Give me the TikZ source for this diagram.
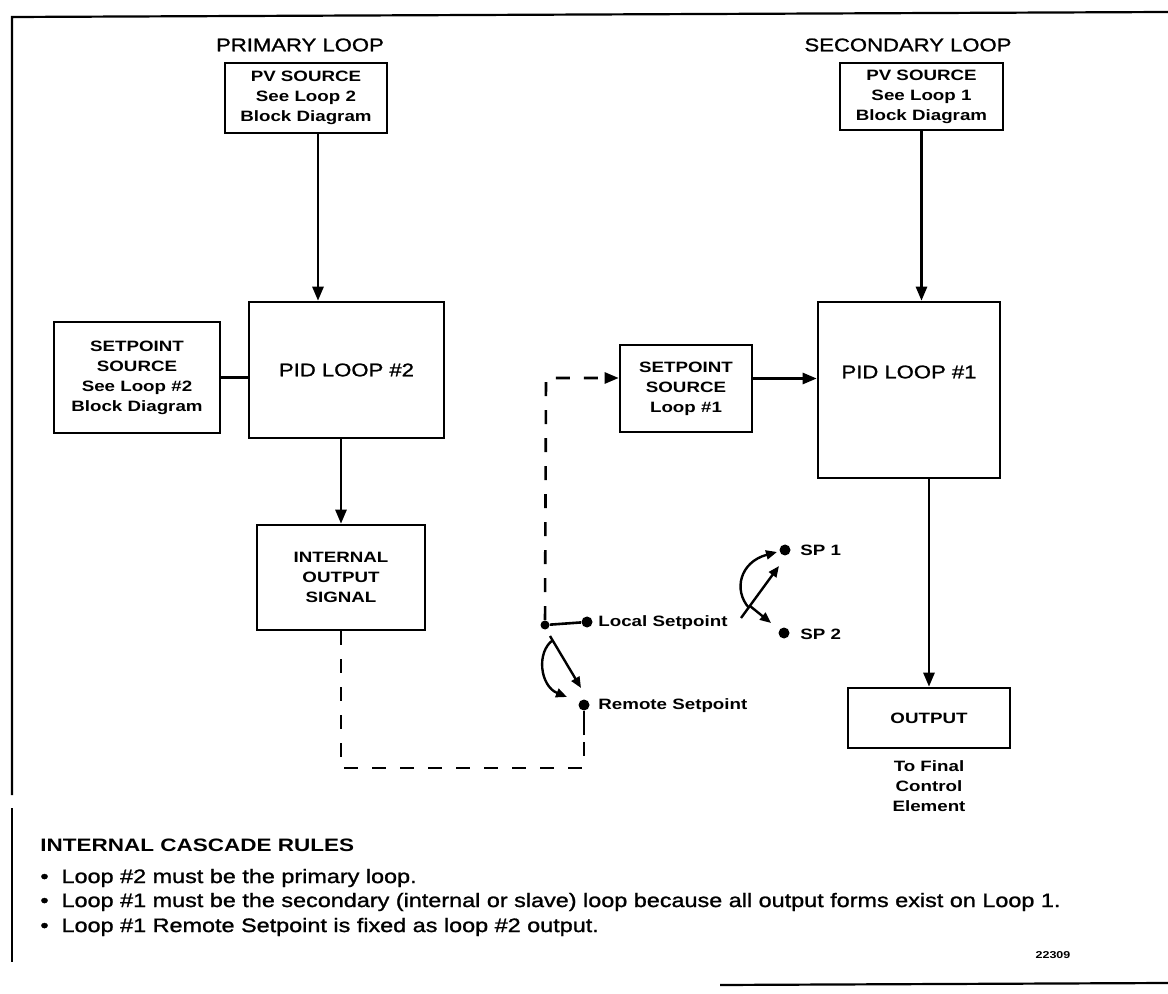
\documentclass[tikz,border=0pt]{standalone}
\usepackage{fontspec}
\setmainfont{Liberation Sans}[FakeStretch=1.25]
\newfontfamily\midfont{Liberation Sans}[FakeStretch=1.2, FakeBold=1.2]
\usetikzlibrary{arrows.meta}
\begin{document}
\begin{tikzpicture}[x=0.5pt,y=-0.5pt,
  blk/.style={draw, line width=1.3pt, inner sep=0pt, align=center,
    font=\fontsize{7.5}{10}\selectfont\bfseries},
  pidbox/.style={draw, line width=1.3pt, inner sep=0pt},
  pidtxt/.style={font=\fontsize{9.2}{10}\midfont, inner sep=0pt},
  ttl/.style={font=\fontsize{9.2}{10}\midfont, inner sep=0pt},
  lbl/.style={font=\fontsize{7.5}{10}\selectfont\bfseries, inner sep=0pt},
  conn/.style={line width=1.3pt},
  arr/.style={line width=1.3pt, -{Triangle[length=7pt,width=5.5pt]}},
  swarr/.style={line width=1.2pt, -{Triangle[length=5.5pt,width=4.5pt]}},
  dashln/.style={line width=1.3pt, dash pattern=on 7pt off 7pt},
  dot/.style={circle, fill, inner sep=0pt, minimum size=5.5pt},
  frame/.style={line width=1.1pt},
  head/.style={font=\fontsize{9}{11}\selectfont\bfseries, inner sep=0pt},
  bul/.style={font=\fontsize{9.75}{11}\midfont, inner sep=0pt}]
\useasboundingbox (0,0) rectangle (1168,994);

% frame
\draw[frame] (1168,12) -- (12,17) -- (12,795);
\draw[frame] (12,808) -- (12,962);
\draw[frame] (720,985) -- (1168,983);

% titles
\node[ttl] (t1) at (300,45) {PRIMARY LOOP};
\node[ttl] (t2) at (908,45) {SECONDARY LOOP};

% primary loop blocks
\node[blk, minimum width=81pt, minimum height=35pt] (pv2) at (306,98)
  {PV SOURCE\\See Loop 2\\Block Diagram};
\node[pidbox, minimum width=97.5pt, minimum height=68pt] (pid2) at (346.5,370) {};
\node[pidtxt] (pid2txt) at (346.5,370) {PID LOOP \#2};
\node[blk, minimum width=83pt, minimum height=55.5pt] (sp2) at (137,377.5)
  {SETPOINT\\SOURCE\\See Loop \#2\\Block Diagram};
\node[blk, minimum width=84pt, minimum height=52.5pt] (ios) at (341,577.5)
  {INTERNAL\\OUTPUT\\SIGNAL};

% secondary loop blocks
\node[blk, minimum width=81.5pt, minimum height=33.5pt] (pv1) at (921.5,96.5)
  {PV SOURCE\\See Loop 1\\Block Diagram};
\node[pidbox, minimum width=91pt, minimum height=88pt] (pid1) at (909,390) {};
\node[pidtxt] (pid1txt) at (909,372) {PID LOOP \#1};
\node[blk, minimum width=66pt, minimum height=43.5pt] (sps1) at (686,388.5)
  {SETPOINT\\SOURCE\\Loop \#1};
\node[blk, minimum width=81pt, minimum height=30pt] (out) at (929,718)
  {OUTPUT};
\node[lbl, align=center, anchor=north] (fin) at (929,760)
  {To Final\\Control\\Element};

% solid connectors
\draw[arr] ([xshift=6pt]pv2.south) -- ([xshift=6pt]pv2.south |- pid2.north);
\draw[conn] (sp2.east) -- (sp2.east -| pid2.west);
\draw[arr] (ios.north |- pid2.south) -- (ios.north);
\draw[arr] (pv1.south) -- (pv1.south |- pid1.north);
\draw[arr] ([yshift=5pt]sps1.east) -- ([yshift=5pt]sps1.east -| pid1.west);
\draw[arr] (out.north |- pid1.south) -- (out.north);

% local / remote setpoint selector
\node[dot, minimum size=4.5pt] (piv) at (545,625) {};
\node[dot] (loc) at (587,622) {};
\node[dot] (rem) at (584,705) {};
\node[lbl, anchor=west] (loclbl) at (598,623) {Local Setpoint};
\node[lbl, anchor=west] (remlbl) at (598,706) {Remote Setpoint};
\draw[conn] (piv) -- (loc);
\coordinate (a1s) at (550,636);
\coordinate (a1e) at (581,688);
\draw[swarr] (a1s) -- (a1e);
\coordinate (a2s) at (553,640);
\coordinate (a2e) at (567,697);
\draw[swarr] (a2s) .. controls (536,652) and (540,686) .. (a2e);

% remote setpoint path from loop #2 output
\coordinate (c1) at (341,768);
\coordinate (c2) at (584,768);
\coordinate (c3) at (584,735);
\draw[dashln] (ios.south) -- (c1) -- (c2) -- (c3);
\draw[conn] (c3) -- (rem);
\coordinate (c4) at (546,378);
\draw[dashln, -{Triangle[length=7pt,width=5.5pt]}] (piv) -- (c4) -- (c4 -| sps1.west);

% SP1 / SP2 selector
\node[dot] (s1) at (785,550) {};
\node[dot] (s2) at (784,633) {};
\node[lbl, anchor=west] (s1lbl) at (800,550) {SP 1};
\node[lbl, anchor=west] (s2lbl) at (800,634) {SP 2};
\coordinate (b1s) at (741,618);
\coordinate (b1e) at (779,566);
\draw[swarr] (b1s) -- (b1e);
\coordinate (b2s) at (750,606);
\coordinate (b2e) at (771,623);
\draw[swarr] (b2s) -- (b2e);
\coordinate (b3s) at (749,608);
\coordinate (b3e) at (777,552);
\draw[swarr] (b3s) .. controls (733,590) and (740,562) .. (b3e);

% rules
\node[head, anchor=west] (rules) at (40,845) {INTERNAL CASCADE RULES};
\node[bul, anchor=west] (r1) at (40,878) {\textbullet\ \ Loop \#2 must be the primary loop.};
\node[bul, anchor=west] (r2) at (40,902) {\textbullet\ \ Loop \#1 must be the secondary (internal or slave) loop because all output forms exist on Loop 1.};
\node[bul, anchor=west] (r3) at (40,927) {\textbullet\ \ Loop \#1 Remote Setpoint is fixed as loop \#2 output.};
\node[lbl, font=\fontsize{5}{6}\selectfont\bfseries] (fig) at (1053,955) {22309};
\end{tikzpicture}
\end{document}
